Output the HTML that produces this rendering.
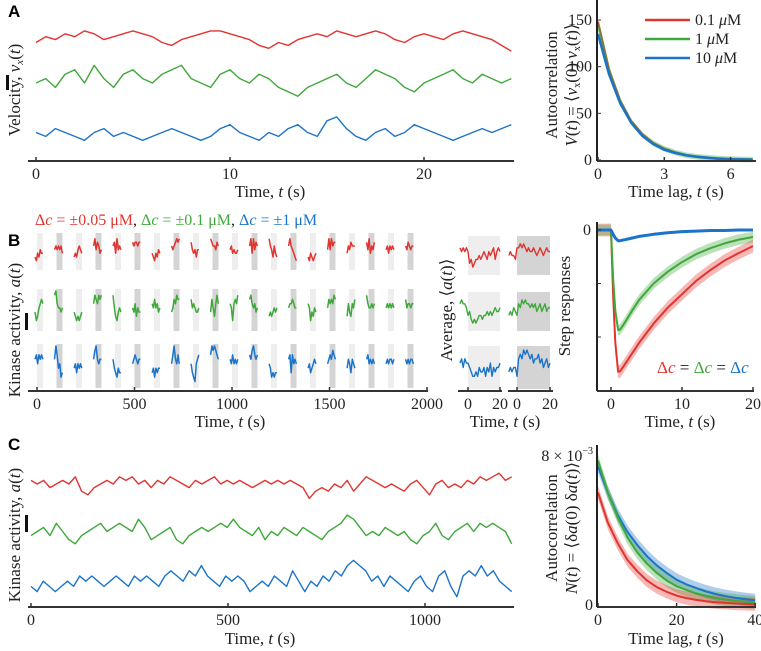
<!DOCTYPE html>
<html><head><meta charset="utf-8"><style>
body{margin:0;background:#fff}
svg{display:block;font-family:"Liberation Serif",serif}
.tk{font-size:16px;fill:#222}
.lb{font-size:17px;fill:#222}
.pl{font-family:"Liberation Sans",sans-serif;font-weight:bold;font-size:17px}
</style></head><body>
<svg id="fig" width="761" height="651" viewBox="0 0 761 651" xmlns="http://www.w3.org/2000/svg"></svg>
<script>
// ---- data ----
const velRed=[5,7,6,8,7,9,8,6,7,8,9,8,7,5,4,6,7,8,9,9,8,7,6,4,3,5,4,6,7,8,7,9,8,7,8,9,8,6,5,7,8,7,6,8,9,8,7,6,4,2];
const velGreen=[5,6,4,7,8,5,9,6,4,7,8,6,5,7,8,9,6,5,4,7,8,6,5,7,6,4,3,2,4,5,6,7,5,4,6,8,7,6,4,3,5,6,7,8,6,5,7,6,5,6];
const velBlue=[5,4,6,5,4,3,5,6,4,5,4,3,4,5,6,5,4,3,4,6,7,5,4,3,5,4,6,7,5,4,8,9,6,4,3,5,6,4,5,7,6,5,4,3,4,5,6,5,6,7];
const acLagA=[0,0.5,1,1.5,2,2.5,3,3.5,4,4.5,5,5.5,6,6.5,7];
const acRedA=[148,97,64,42,28,18,12,8,5,3.4,2.2,1.5,1,0.6,0.4];
const acGreenA=[146,96,63,41,27,18,12,8,5,3.4,2.2,1.5,1,0.6,0.4];
const acBlueA=[135,92,61,40,26,17,11,7.5,5,3.3,2.2,1.4,0.9,0.6,0.4];
const trialTimes=[0,100,200,300,400,500,600,700,800,900,1000,1100,1200,1300,1400,1500,1600,1700,1800,1900];
const trRed=[[3,2,4,3,5,4,4],[5,6,5,6,5,6,4],[3,4,3,5,6,5,4],[6,8,5,7,6,4,5],[6,7,4,8,5,6,5],[7,6,7,7,6,7,7],[4,3,2,4,3,5,4],[6,5,6,7,8,7,8],[7,5,4,5,3,5,5],[8,7,6,6,5,7,6],[5,6,4,5,4,4,5],[6,8,4,8,5,7,6],[8,6,5,3,6,4,3],[6,8,6,5,4,3,2],[3,2,4,3,2,3,4],[5,8,5,8,6,7,7],[4,6,5,7,6,6,6],[7,5,8,4,6,5,7],[5,6,4,6,5,6,5],[6,5,7,6,5,6,6]];
const trGreen=[[4,2,3,5,6,7,6],[8,9,6,5,5,4,5],[4,3,2,3,2,3,4],[6,8,7,6,8,7,8],[8,5,3,2,4,5,4],[5,4,6,3,5,4,4],[6,5,7,5,6,4,5],[4,5,7,6,8,7,7],[7,5,6,5,4,4,5],[4,7,5,3,6,8,6],[6,5,2,6,7,6,8],[7,8,6,5,6,4,5],[3,4,3,4,5,4,5],[5,6,6,7,6,5,5],[6,5,2,4,3,5,4],[5,7,6,7,6,8,7],[3,6,4,3,6,5,7],[8,6,5,5,6,5,6],[5,6,5,6,5,6,5],[7,5,6,6,5,6,6]];
const trBlue=[[6,7,5,7,6,7,6],[6,9,7,4,5,2,3],[4,5,3,5,4,5,4],[6,8,9,6,5,6,6],[6,4,3,2,4,3,3],[5,6,7,6,5,6,6],[3,4,2,4,3,4,4],[5,7,9,6,5,7,5],[5,3,2,1,5,6,7],[7,9,8,9,8,7,6],[6,5,7,5,6,5,6],[7,6,8,9,7,6,7],[5,4,2,3,2,3,3],[6,7,3,7,5,6,5],[4,5,3,4,5,6,5],[5,6,7,6,8,7,6],[4,6,5,3,6,5,4],[6,7,5,6,5,6,5],[5,6,5,6,6,5,6],[6,5,6,5,6,6,5]];
const avgTime=[-5,-4,-3,-2,-1,0,1,2,3,4,5,6,7,8,9,10,11,12,13,14,15,16,17,18,19,20];
const avgRedUp=[6,5,6,5,6,5,2,3,1,2,3,3,4,3,4,5,4,3,5,4,5,6,3,5,6,5];
const avgGreenUp=[6,7,6,6,5,3,4,2,1,2,1,2,3,3,2,3,3,4,3,4,3,4,5,4,4,5];
const avgBlueUp=[5,6,4,6,5,5,4,3,2,2,3,2,4,3,3,4,2,4,3,5,2,4,3,4,4,5];
const avgRedDn=[4,5,4,4,3,6,6,7,6,7,6,5,6,5,5,6,5,4,5,6,5,4,5,6,5,5];
const avgGreenDn=[3,4,3,5,4,3,6,5,7,6,7,6,6,5,6,5,6,4,5,6,4,5,6,4,5,5];
const avgBlueDn=[3,4,3,4,4,2,6,7,6,8,7,8,7,6,7,5,6,6,7,5,6,4,5,6,4,5];
const stepTime=[-2,0,0.3,0.6,1,1.3,1.6,2,3,4,6,8,10,12,14,16,18,20];
const stepRed=[0,0,1.2,2.1,2.65,2.64,2.58,2.5,2.3,2.1,1.75,1.45,1.2,0.95,0.75,0.57,0.43,0.3];
const stepGreen=[0,0,0.9,1.5,1.87,1.86,1.8,1.72,1.5,1.3,1.0,0.78,0.6,0.45,0.34,0.25,0.18,0.13];
const stepBlue=[0,0,0.08,0.15,0.2,0.2,0.19,0.18,0.15,0.12,0.08,0.05,0.03,0.02,0.01,0.01,0,0];
const kinRed=[6,5,6,4,5,6,5,7,3,2,4,5,6,5,7,6,7,5,6,4,6,5,7,6,5,4,6,5,6,7,5,6,5,6,5,4,5,6,5,6,5,6,5,4,1,3,4,3,5,4,6,3,5,7,6,5,4,5,4,3,5,6,4,2,5,6,4,5,4,6,5,7,6,7,8,6,7];
const kinGreen=[4,5,6,4,7,5,3,2,4,5,6,7,5,6,7,6,5,8,6,3,4,5,6,3,2,4,5,6,5,6,7,6,8,6,5,4,6,3,5,4,6,5,4,6,5,4,3,5,6,7,9,8,6,4,5,4,6,5,4,5,3,2,4,5,7,4,3,5,6,7,5,7,6,7,6,5,2];
const kinBlue=[3,2,4,3,2,3,4,3,5,4,5,4,3,4,5,4,3,5,4,5,4,3,5,6,5,4,6,5,7,5,4,3,5,4,5,4,2,3,4,3,5,4,3,6,4,2,4,3,5,4,6,5,7,8,7,6,4,5,3,5,4,3,2,4,5,3,2,5,6,3,1,5,6,5,7,5,6,4,3,2];
const acLagC=[0,2.5,5,7.5,10,12.5,15,17.5,20,22.5,25,27.5,30,32.5,35,37.5,40];
const acRedC=[6.0,4.4,3.3,2.4,1.8,1.3,0.95,0.7,0.5,0.37,0.27,0.2,0.15,0.11,0.08,0.06,0.04];
const acGreenC=[7.7,6.0,4.7,3.6,2.8,2.2,1.7,1.3,1.0,0.8,0.62,0.48,0.37,0.29,0.23,0.18,0.14];
const acBlueC=[7.4,6.0,4.8,3.9,3.2,2.6,2.1,1.7,1.35,1.1,0.9,0.72,0.58,0.47,0.38,0.31,0.25];
const xTicksA=[0,10,20], xTicksAr=[0,3,6], yTicksAr=[0,50,100,150];
const xTicksB=[0,500,1000,1500,2000], xTicksC=[0,500,1000], xTicksCr=[0,20,40], xTicksStep=[0,10,20];

const R='#e2342f',G='#3fa83a',B='#1b74c9';
const svg=document.getElementById('fig');
const NS='http://www.w3.org/2000/svg';
function mk(tag,at,name,parent){const e=document.createElementNS(NS,tag);for(const k in at)e.setAttribute(k,at[k]);


(parent||svg).appendChild(e);return e;}
function txt(x,y,s,cls,name,anchor,rot,fill){const e=mk('text',{x:x,y:y,class:cls,'text-anchor':anchor||'middle'},name);
if(rot)e.setAttribute('transform','rotate(-90 '+x+' '+y+')');if(fill)e.style.fill=fill;e.innerHTML=s;return e;}
function line(xs,ys,fx,fy,col,w,name,op){const p=xs.map((x,i)=>fx(x).toFixed(1)+','+fy(ys[i]).toFixed(1)).join(' ');
return mk('polyline',{points:p,fill:'none',stroke:col,'stroke-width':w,'stroke-linejoin':'round','stroke-opacity':op||1},name);}
function band(xs,ys,d,fx,fy,col,name){let p=xs.map((x,i)=>fx(x)+','+fy(ys[i]+d)).join(' ')+' '+xs.map((x,i)=>fx(x)+','+fy(ys[i]-d)).reverse().join(' ');
return mk('polygon',{points:p,fill:col,'fill-opacity':0.35},name);}
function hax(x1,x2,y,name){mk('line',{x1:x1,x2:x2,y1:y,y2:y,stroke:'#333','stroke-width':2},name);}
function vax(x,y1,y2,name){mk('line',{x1:x,x2:x,y1:y1,y2:y2,stroke:'#222','stroke-width':2},name);}
function xt(ticks,fx,y,name){ticks.forEach(t=>{mk('line',{x1:fx(t),x2:fx(t),y1:y-4,y2:y,stroke:'#333','stroke-width':1.5},name+'-tick');txt(fx(t),y+18,t,'tk',name+'-label');});}
const idx=a=>a.map((_,i)=>i);

// ===== Panel A =====
txt(8,17,'A','pl','panel-label-a','start');
const axA=t=>36+t*19.4;
const tA=n=>(i=>i*24.5/(n-1));
line(idx(velRed).map(tA(velRed.length)),velRed,axA,v=>57-v*2.9,R,1.4,'velocity-trace-red');
line(idx(velGreen).map(tA(velGreen.length)),velGreen,axA,v=>105-v*4.4,G,1.4,'velocity-trace-green');
line(idx(velBlue).map(tA(velBlue.length)),velBlue,axA,v=>152-v*3.9,B,1.4,'velocity-trace-blue');
hax(28,514,161,'a-x-axis');xt(xTicksA,axA,161,'a-x');
txt(270,197,'Time, <tspan font-style="italic">t</tspan> (s)','lb','a-x-title');
txt(20,90,'Velocity, <tspan font-style="italic">v</tspan><tspan font-size="11" dy="3" font-style="italic">x</tspan><tspan dy="-3">(</tspan><tspan font-style="italic">t</tspan>)','lb','a-y-title','middle',true);
mk('rect',{x:6,y:75,width:3,height:15,fill:'#111'},'a-scale-bar');
// A right
const axAr=t=>598+t*22.1, ayAr=v=>160-v*0.933;
band(acLagA,acGreenA,3,axAr,ayAr,G,'autocorr-band-green');
line(acLagA,acRedA,axAr,ayAr,R,2,'autocorr-red');
line(acLagA,acGreenA,axAr,ayAr,G,3,'autocorr-green',0.6);
line(acLagA,acBlueA,axAr,ayAr,B,2.5,'autocorr-blue');
vax(597,0,161,'ar-y-axis');hax(597,756,161,'ar-x-axis');
xt(xTicksAr,axAr,161,'ar-x');
yTicksAr.forEach(v=>{mk('line',{x1:597,x2:601,y1:ayAr(v),y2:ayAr(v),stroke:'#333'},'ar-y-tick');txt(592,ayAr(v)+5,v,'tk','ar-y-label','end');});
txt(676,197,'Time lag, <tspan font-style="italic">t</tspan> (s)','lb','ar-x-title');
txt(557,85,'Autocorrelation','lb','ar-y-title-1','middle',true);
txt(577,85,'<tspan font-style="italic">V</tspan>(<tspan font-style="italic">t</tspan>) = ⟨<tspan font-style="italic">v</tspan><tspan font-size="10" dy="3">x</tspan><tspan dy="-3">(0) </tspan><tspan font-style="italic">v</tspan><tspan font-size="10" dy="3">x</tspan><tspan dy="-3">(</tspan><tspan font-style="italic">t</tspan>)⟩','lb','ar-y-title-2','middle',true);
[[R,'0.1 <tspan font-style="italic">μ</tspan>M',20],[G,'1 <tspan font-style="italic">μ</tspan>M',39],[B,'10 <tspan font-style="italic">μ</tspan>M',58]].forEach((l,i)=>{
mk('line',{x1:645,x2:690,y1:l[2],y2:l[2],stroke:l[0],'stroke-width':2.5},'legend-swatch');txt(695,l[2]+5,l[1],'tk','legend-entry','start');});

// ===== Panel B =====
txt(8,246,'B','pl','panel-label-b','start');
const bx=t=>37+t*0.195;
const rows=[[233,270,trRed,R,'red'],[289,331,trGreen,G,'green'],[344,388,trBlue,B,'blue']];
const trialOff=[-10,-3,3,10,17,23,30];
rows.forEach(r=>{trialTimes.forEach((t0,k)=>{mk('rect',{x:bx(t0),y:r[0],width:6,height:r[1]-r[0],fill:k%2?'#d4d4d4':'#eeeeee'},'stimulus-stripe');});});
rows.forEach(r=>{const lo=r[0]+2,hi=r[1]-2;trialTimes.forEach((t0,k)=>{line(trialOff.map(o=>t0+o),r[2][k],bx,v=>hi-(v/9)*(hi-lo),r[3],1.5,'trial-trace-'+r[4]);});});
hax(28,428,391,'b-x-axis');xt(xTicksB,bx,391,'b-x');
txt(230,427,'Time, <tspan font-style="italic">t</tspan> (s)','lb','b-x-title');
txt(35,225,'<tspan style="fill:'+R+'">Δ<tspan font-style="italic">c</tspan> = ±0.05 μM</tspan>, <tspan style="fill:'+G+'">Δ<tspan font-style="italic">c</tspan> = ±0.1 μM</tspan>, <tspan style="fill:'+B+'">Δ<tspan font-style="italic">c</tspan> = ±1 μM</tspan>','tk','b-legend','start');
txt(20,330,'Kinase activity, <tspan font-style="italic">a</tspan>(<tspan font-style="italic">t</tspan>)','lb','b-y-title','middle',true);
mk('rect',{x:25,y:313,width:3,height:17,fill:'#111'},'b-scale-bar');
// averages
const ax1=t=>468+t*1.6, ax2=t=>517+t*1.65;
const avgRows=[[236,275,avgRedUp,avgRedDn,R,'red'],[292,331,avgGreenUp,avgGreenDn,G,'green'],[346,389,avgBlueUp,avgBlueDn,B,'blue']];
avgRows.forEach(r=>{mk('rect',{x:ax1(0),y:r[0],width:ax1(20)-ax1(0),height:r[1]-r[0],fill:'#eeeeee'},'avg-shade-up');
mk('rect',{x:ax2(0),y:r[0],width:ax2(20)-ax2(0),height:r[1]-r[0],fill:'#d4d4d4'},'avg-shade-down');
const fy=v=>r[1]-4-v/8*(r[1]-r[0]-8);line(avgTime,r[2],ax1,fy,r[4],1.4,'avg-trace-up-'+r[5]);line(avgTime,r[3],ax2,fy,r[4],1.4,'avg-trace-down-'+r[5]);});
hax(458,502,391,'avg1-x-axis');hax(508,553,391,'avg2-x-axis');
xt([0,20],ax1,391,'avg1-x');xt([0,20],ax2,391,'avg2-x');
txt(505,427,'Time, <tspan font-style="italic">t</tspan> (s)','lb','avg-x-title');
txt(452,310,'Average, ⟨<tspan font-style="italic">a</tspan>(<tspan font-style="italic">t</tspan>)⟩','lb','avg-y-title','middle',true);
// step responses
const sx=t=>611+t*7.1, sy=v=>230+v*53.5;
band(stepTime,stepRed,0.12,sx,sy,R,'step-band-red');band(stepTime,stepGreen,0.1,sx,sy,G,'step-band-green');
line(stepTime,stepRed,sx,sy,R,2,'step-red');line(stepTime,stepGreen,sx,sy,G,2,'step-green');line(stepTime,stepBlue,sx,sy,B,3,'step-blue');
vax(597,222,391,'step-y-axis');hax(597,754,391,'step-x-axis');
[0,1,2].forEach(v=>mk('line',{x1:597,x2:601,y1:sy(v),y2:sy(v),stroke:'#333'},'step-y-tick'));
txt(591,235,'0','tk','step-y-label','end');
xt(xTicksStep,sx,391,'step-x');
txt(680,427,'Time, <tspan font-style="italic">t</tspan> (s)','lb','step-x-title');
txt(570,306,'Step responses','lb','step-y-title','middle',true);
txt(657,373,'<tspan style="fill:'+R+'">Δ<tspan font-style="italic">c</tspan></tspan> = <tspan style="fill:'+G+'">Δ<tspan font-style="italic">c</tspan></tspan> = <tspan style="fill:'+B+'">Δ<tspan font-style="italic">c</tspan></tspan>','lb','step-legend','start');

// ===== Panel C =====
txt(8,450,'C','pl','panel-label-c','start');
const cx=t=>31+t*0.394;
const tc=n=>(i=>i*1220/(n-1));
line(idx(kinRed).map(tc(kinRed.length)),kinRed,cx,v=>502-v*3.6,R,1.4,'kinase-trace-red');
line(idx(kinGreen).map(tc(kinGreen.length)),kinGreen,cx,v=>552-v*4.1,G,1.4,'kinase-trace-green');
line(idx(kinBlue).map(tc(kinBlue.length)),kinBlue,cx,v=>602-v*5.2,B,1.4,'kinase-trace-blue');
hax(28,514,607,'c-x-axis');xt(xTicksC,cx,607,'c-x');
txt(260,644,'Time, <tspan font-style="italic">t</tspan> (s)','lb','c-x-title');
txt(20,535,'Kinase activity, <tspan font-style="italic">a</tspan>(<tspan font-style="italic">t</tspan>)','lb','c-y-title','middle',true);
mk('rect',{x:25,y:515,width:3,height:17,fill:'#111'},'c-scale-bar');
const crx=t=>598+t*3.93, cry=v=>605-v*18.75;
band(acLagC,acBlueC,0.35,crx,cry,B,'c-band-blue');band(acLagC,acGreenC,0.35,crx,cry,G,'c-band-green');band(acLagC,acRedC,0.35,crx,cry,R,'c-band-red');
line(acLagC,acBlueC,crx,cry,B,2,'c-autocorr-blue');line(acLagC,acGreenC,crx,cry,G,2,'c-autocorr-green');line(acLagC,acRedC,crx,cry,R,2,'c-autocorr-red');
vax(597,445,607,'cr-y-axis');hax(597,756,607,'cr-x-axis');
xt(xTicksCr,crx,607,'cr-x');
txt(593,610,'0','tk','cr-y-label','end');
txt(593,461,'8 × 10<tspan font-size="10" dy="-7">−3</tspan>','tk','cr-y-label-top','end');
txt(676,644,'Time lag, <tspan font-style="italic">t</tspan> (s)','lb','cr-x-title');
txt(557,528,'Autocorrelation','lb','cr-y-title-1','middle',true);
txt(577,528,'<tspan font-style="italic">N</tspan>(<tspan font-style="italic">t</tspan>) = ⟨δ<tspan font-style="italic">a</tspan>(0) δ<tspan font-style="italic">a</tspan>(<tspan font-style="italic">t</tspan>)⟩','lb','cr-y-title-2','middle',true);
</script>
</body></html>
